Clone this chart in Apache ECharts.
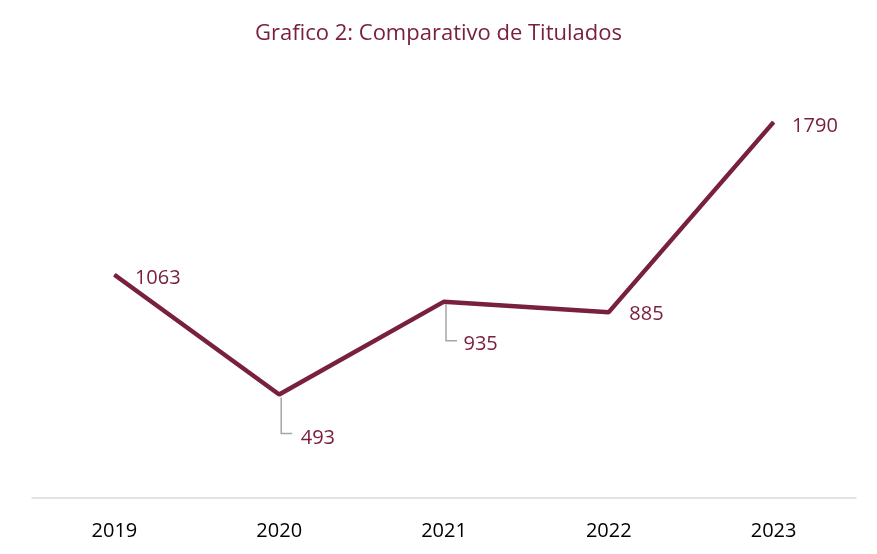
<!DOCTYPE html>
<html><head><meta charset="utf-8">
<script src="https://cdn.jsdelivr.net/npm/echarts@6/dist/echarts.min.js"></script>
<style>html,body{margin:0;padding:0;background:#fff}#c{width:877px;height:554px}</style>
</head><body><div id="c"></div>
<script>
const categories = ['2019','2020','2021','2022','2023'];
const values = [1063, 493, 935, 885, 1790];
const leaderIdx = [1, 2];

const maroon = '#79203F';
const labelPos = [[21, 4], [22, 44], [20, 43], [21, 3], [19, 5]];

const chart = echarts.init(document.getElementById('c'));
chart.setOption({
  animation: false,
  title: {
    text: 'Grafico 2: Comparativo de Titulados',
    left: 'center', top: 18,
    textStyle: { color: maroon, fontSize: 22, fontWeight: 'normal', fontFamily: 'Open Sans' }
  },
  grid: { left: 32, right: 21, top: 78, bottom: 56 },
  xAxis: {
    type: 'category', data: categories, boundaryGap: true,
    axisLine: { lineStyle: { color: '#d9d9d9', width: 1.5 } },
    axisTick: { show: false },
    axisLabel: { color: '#000', fontSize: 20, margin: 23, fontFamily: 'Open Sans' }
  },
  yAxis: { type: 'value', min: 0, max: 2000, show: false, splitLine: { show: false } },
  series: [
    {
      type: 'custom',
      data: leaderIdx.map(i => [i, values[i]]),
      renderItem: function (params, api) {
        const p = api.coord([api.value(0), api.value(1)]);
        const x = p[0] + 2;
        return {
          type: 'polyline',
          shape: { points: [[x, p[1] + 3], [x, p[1] + 39], [x + 11, p[1] + 39]] },
          style: { stroke: '#a6a6a6', lineWidth: 1.5, fill: null }
        };
      },
      z: 1
    },
    {
      type: 'line',
      data: values.map((v, i) => ({
        value: v,
        label: { position: labelPos[i] }
      })),
      symbol: 'circle', symbolSize: 1,
      itemStyle: { color: maroon },
      lineStyle: { color: maroon, width: 4.5 },
      label: {
        show: true, color: maroon, fontSize: 20, fontFamily: 'Open Sans',
        align: 'left', verticalAlign: 'middle'
      },
      z: 3
    }
  ]
});
</script></body></html>
